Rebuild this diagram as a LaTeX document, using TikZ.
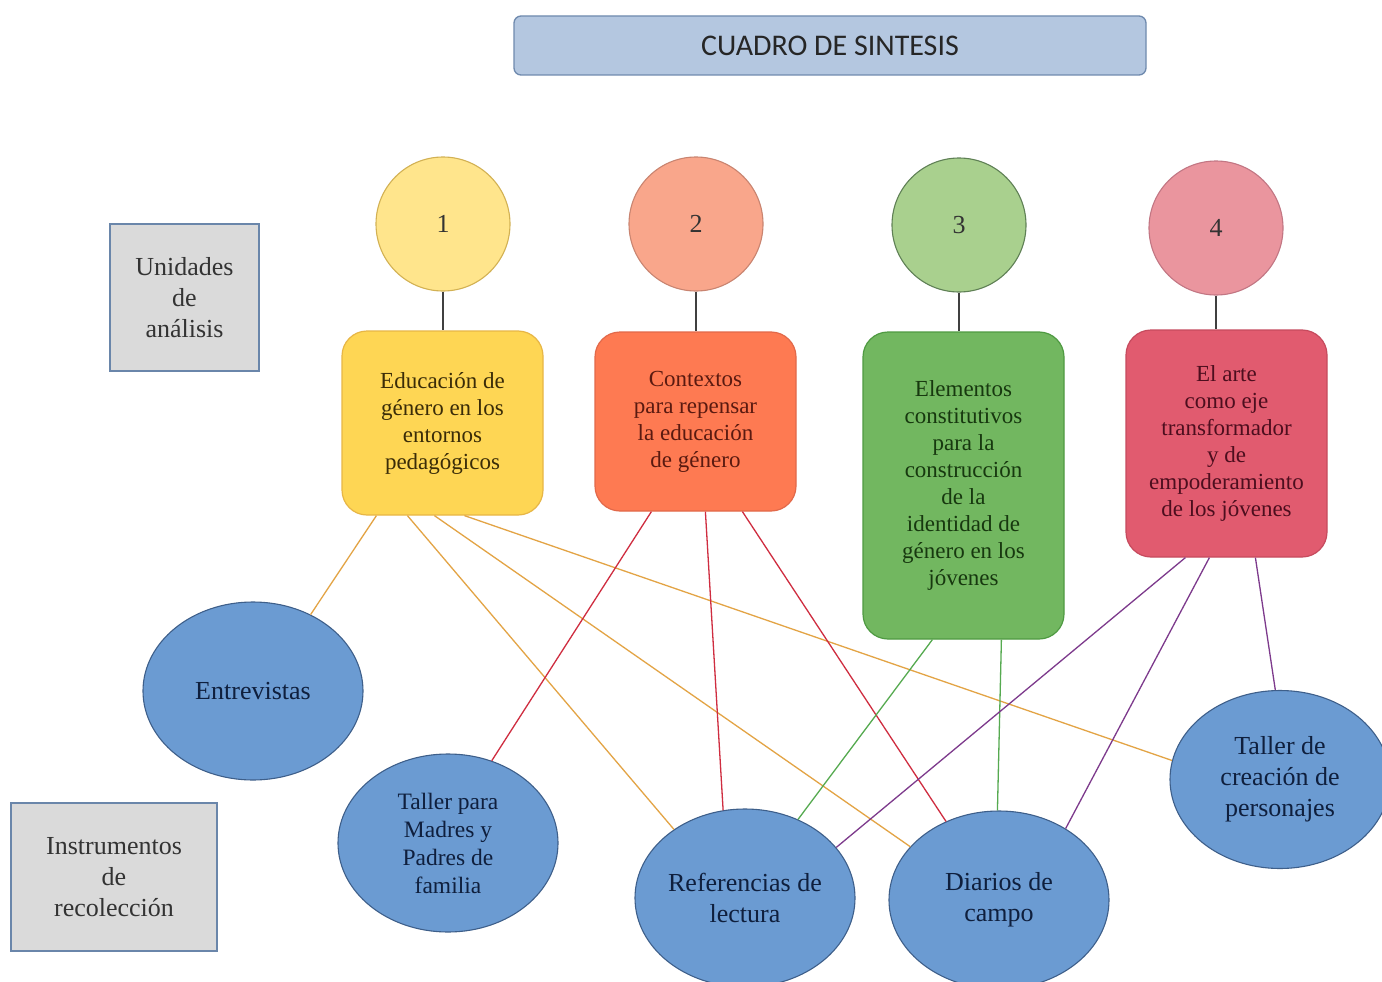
\documentclass[tikz,border=0pt]{standalone}
\usepackage{fontspec}
\setmainfont{Liberation Serif}
\newfontfamily\titlefont{Carlito}
\usetikzlibrary{shapes.geometric}
\definecolor{titlefill}{HTML}{B4C7E0}
\definecolor{titledraw}{HTML}{6F8AAE}
\definecolor{greyfill}{HTML}{DADADA}
\definecolor{greydraw}{HTML}{6A86AA}
\definecolor{cone}{HTML}{FFE58C}
\definecolor{conedraw}{HTML}{D2B153}
\definecolor{ctwo}{HTML}{F9A68B}
\definecolor{ctwodraw}{HTML}{C98470}
\definecolor{cthree}{HTML}{A9D08E}
\definecolor{cthreedraw}{HTML}{5F8055}
\definecolor{cfour}{HTML}{EA959E}
\definecolor{cfourdraw}{HTML}{C27683}
\definecolor{bone}{HTML}{FED654}
\definecolor{bonedraw}{HTML}{E7B646}
\definecolor{btwo}{HTML}{FE7A52}
\definecolor{btwodraw}{HTML}{E2694A}
\definecolor{bthree}{HTML}{72B760}
\definecolor{bthreedraw}{HTML}{4F9A42}
\definecolor{bfour}{HTML}{E15B6F}
\definecolor{bfourdraw}{HTML}{C64B5E}
\definecolor{ellfill}{HTML}{6B9BD2}
\definecolor{elldraw}{HTML}{3E5F8A}
\definecolor{linor}{HTML}{E3A445}
\definecolor{linred}{HTML}{CF2D40}
\definecolor{lingreen}{HTML}{56AA50}
\definecolor{linpurple}{HTML}{7D3A8C}
\definecolor{txtone}{HTML}{3A2C08}
\definecolor{txttwo}{HTML}{5A1A10}
\definecolor{txtthree}{HTML}{17380F}
\definecolor{txtfour}{HTML}{4D0E1E}
\definecolor{txtell}{HTML}{0F1F3D}
\begin{document}
\begin{tikzpicture}[x=1pt,y=-1pt,
  titlebox/.style={draw=titledraw,fill=titlefill,line width=1.3pt,rounded corners=7pt,
    minimum width=632pt,minimum height=59pt,inner sep=0pt,
    font=\titlefont\fontsize{30}{34}\selectfont,text=black!85},
  greybox/.style={draw=greydraw,fill=greyfill,line width=1.3pt,inner sep=0pt,align=center,
    font=\fontsize{26}{31}\selectfont,text=black!80},
  numcirc/.style={circle,line width=1.1pt,minimum size=134pt,inner sep=0pt,
    font=\fontsize{26}{30}\selectfont,text=black!80},
  unitbox/.style={rectangle,rounded corners=25pt,line width=1.2pt,minimum width=201pt,
    inner sep=0pt,align=center,font=\fontsize{23}{27}\selectfont},
  instell/.style={ellipse,draw=elldraw,fill=ellfill,line width=1.1pt,minimum width=220pt,
    minimum height=178pt,inner sep=-30pt,align=center,text=txtell},
  stem/.style={draw=black!75,line width=1.6pt},
  oline/.style={draw=linor,line width=1.3pt},
  rline/.style={draw=linred,line width=1.3pt},
  gline/.style={draw=lingreen,line width=1.3pt},
  pline/.style={draw=linpurple,line width=1.3pt}]
\useasboundingbox (0,0) rectangle (1382,982);
\fill[white] (0,0) rectangle (1382,982);

\node[titlebox] (title) at (830,45.5) {CUADRO DE SINTESIS};

\node[greybox,minimum width=149pt,minimum height=147pt] (unid) at (184.5,297.5) {Unidades\\de\\análisis};
\node[greybox,minimum width=206pt,minimum height=148pt] (instr) at (114,877) {Instrumentos\\de\\recolección};

\node[numcirc,draw=conedraw,fill=cone] (c1) at (443,224) {1};
\node[numcirc,draw=ctwodraw,fill=ctwo] (c2) at (696,224) {2};
\node[numcirc,draw=cthreedraw,fill=cthree] (c3) at (959,225) {3};
\node[numcirc,draw=cfourdraw,fill=cfour] (c4) at (1216,228) {4};

\node[unitbox,draw=bonedraw,fill=bone,minimum height=184pt,text=txtone] (b1) at (442.5,423)
  {Educación de\\género en los\\entornos\\pedagógicos};
\node[unitbox,draw=btwodraw,fill=btwo,minimum height=179pt,text=txttwo] (b2) at (695.5,421.5)
  {Contextos\\para repensar\\la educación\\de género};
\node[unitbox,draw=bthreedraw,fill=bthree,minimum height=307pt,text=txtthree] (b3) at (963.5,485.5)
  {Elementos\\constitutivos\\para la\\construcción\\de la\\identidad de\\género en los\\jóvenes};
\node[unitbox,draw=bfourdraw,fill=bfour,minimum height=227pt,text=txtfour] (b4) at (1226.5,443.5)
  {El arte\\como eje\\transformador\\y de\\empoderamiento\\de los jóvenes};

\draw[stem] (c1.south) -- (c1.south |- b1.north);
\draw[stem] (c2.south) -- (c2.south |- b2.north);
\draw[stem] (c3.south) -- (c3.south |- b3.north);
\draw[stem] (c4.south) -- (c4.south |- b4.north);

\node[instell,font=\fontsize{26}{31}\selectfont] (ent) at (253,691) {Entrevistas};
\node[instell,font=\fontsize{23.5}{28}\selectfont] (tpm) at (448,843) {Taller para\\Madres y\\Padres de\\familia};
\node[instell,font=\fontsize{26}{31}\selectfont] (ref) at (745,898) {Referencias de\\lectura};
\node[instell,font=\fontsize{26}{31}\selectfont] (dia) at (999,900) {Diarios de\\campo};
\node[instell,font=\fontsize{26}{31}\selectfont] (tcp) at (1280,779.5) {Taller de\\creación de\\personajes};

\draw[oline] ([xshift=35pt]b1.south west) -- (ent.53);
\draw[oline] ([xshift=66pt]b1.south west) -- (ref.136);
\draw[oline] ([xshift=93pt]b1.south west) -- (dia.149);
\draw[oline] ([xshift=123pt]b1.south west) -- (tcp.170);
\draw[rline] ([xshift=57pt]b2.south west) -- (tpm.62);
\draw[rline] ([xshift=111pt]b2.south west) -- (ref.104);
\draw[rline] ([xshift=148pt]b2.south west) -- (dia.124);
\draw[gline] ([xshift=70pt]b3.south west) -- (ref.56);
\draw[gline] ([xshift=139pt]b3.south west) -- (dia.91);
\draw[pline] ([xshift=60pt]b4.south west) -- (ref.29);
\draw[pline] ([xshift=84pt]b4.south west) -- (dia.47);
\draw[pline] ([xshift=130pt]b4.south west) -- (tcp.93);
\end{tikzpicture}
\end{document}
